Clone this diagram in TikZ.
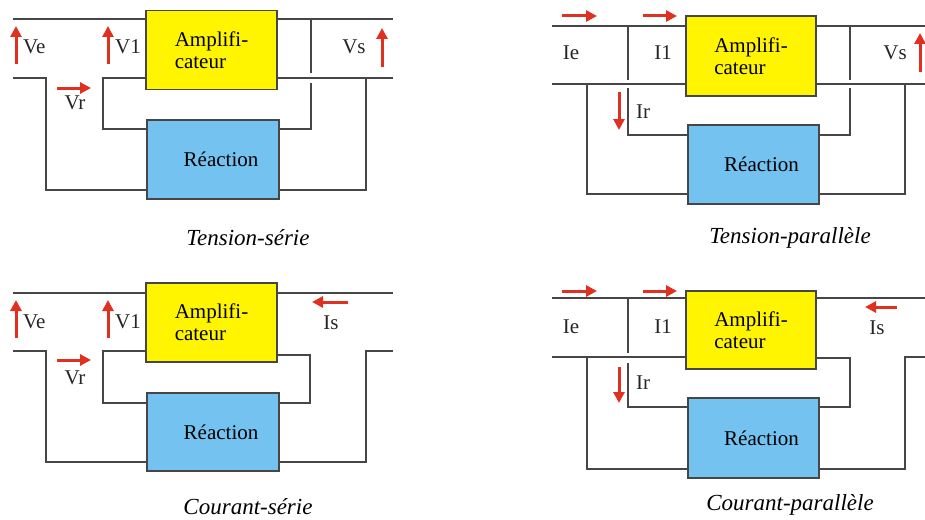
\documentclass[tikz,border=0pt]{standalone}
\usepackage{fontspec}
\setmainfont{Liberation Serif}
\usepackage{tikz}
\usetikzlibrary{arrows.meta,positioning}
\definecolor{FilGris}{RGB}{70,70,70}
\definecolor{AmpliJaune}{RGB}{255,245,0}
\definecolor{ReacBleu}{RGB}{115,194,240}
\definecolor{FlecheRouge}{RGB}{224,48,32}

\begin{document}
\begin{tikzpicture}[x=1pt,y=-1pt,
    ampli/.style={draw=FilGris,line width=1.4pt,fill=AmpliJaune,minimum width=131pt,minimum height=79pt,inner sep=0pt,align=left,font=\fontsize{21}{22}\selectfont},
    reac/.style={draw=FilGris,line width=1.4pt,fill=ReacBleu,minimum width=132pt,minimum height=79pt,inner sep=0pt,font=\fontsize{21}{22}\selectfont},
    fil/.style={draw=FilGris,line width=1.2pt},
    fleche/.style={-{Triangle[length=11pt,width=11pt]},FlecheRouge,line width=3pt},
    etiq/.style={inner sep=0pt,text=black!85,font=\fontsize{21}{22}\selectfont},
    legende/.style={inner sep=0pt,font=\fontsize{23}{24}\selectfont\itshape}]
  \useasboundingbox (0,0) rectangle (925,519);

  % Tension-serie
  \node[ampli] (A1) at (211.5,50) {Amplifi-\\cateur};
  \node[reac] (R1) at (213,159.5) {\hspace*{16pt}Réaction};
  \coordinate (e1h) at (13,19); \coordinate (s1h) at (393,19);
  \coordinate (e1b) at (13,78); \coordinate (s1b) at (393,78);
  \coordinate (g1) at (103,78); \coordinate (h1) at (103,129);
  \coordinate (k1) at (46,190); \coordinate (m1) at (366,190);
  \coordinate (p1) at (311,19); \coordinate (q1) at (311,129);
  \draw[fil] (e1h) -- (e1h -| A1.west) (e1h -| A1.east) -- (s1h);
  \draw[fil] (e1b) -| (k1) -- (k1 -| R1.west);
  \draw[fil] (g1 -| A1.west) -- (g1) -- (h1) -- (h1 -| R1.west);
  \draw[fil] (s1b -| A1.east) -- (s1b);
  \draw[fil] (s1b -| m1) -- (m1) -- (m1 -| R1.east);
  \draw[fil] (p1) -- ++(0,54) ++(0,10) -- (q1) -- (q1 -| R1.east);
  \draw[fleche] (16,64) -- (16,26);
  \draw[fleche] (108,64) -- (108,26);
  \draw[fleche] (57,88) -- (91,88);
  \draw[fleche] (382,67) -- (382,28);
  \node[etiq,anchor=west] (ve1) at (23,47) {Ve};
  \node[etiq,anchor=west] (v11) at (115,47) {V1};
  \node[etiq] (vr1) at (75,103) {Vr};
  \node[etiq] (vs1) at (354,47) {Vs};
  \node[legende] (t1) at (248,238) {Tension-série};

  % Tension-parallele
  \node[ampli,minimum width=130pt,minimum height=80pt] (A2) at (751,56) {Amplifi-\\cateur};
  \node[reac,minimum width=131pt] (R2) at (753.5,164.5) {\hspace*{16pt}Réaction};
  \coordinate (e2h) at (552,26); \coordinate (s2h) at (925,26);
  \coordinate (e2b) at (552,84); \coordinate (s2b) at (925,84);
  \coordinate (p2) at (628,26); \coordinate (q2) at (628,135);
  \coordinate (u2) at (850,26); \coordinate (w2) at (850,135);
  \coordinate (k2) at (587,194); \coordinate (m2) at (905,194);
  \draw[fil] (e2h) -- (e2h -| A2.west) (e2h -| A2.east) -- (s2h);
  \draw[fil] (e2b) -- (e2b -| A2.west) (e2b -| A2.east) -- (s2b);
  \draw[fil] (p2) -- ++(0,54) ++(0,8) -- (q2) -- (q2 -| R2.west);
  \draw[fil] (u2) -- ++(0,54) ++(0,8) -- (w2) -- (w2 -| R2.east);
  \draw[fil] (e2b -| k2) -- (k2) -- (k2 -| R2.west);
  \draw[fil] (s2b -| m2) -- (m2) -- (m2 -| R2.east);
  \draw[fleche] (562,16) -- (597,16);
  \draw[fleche] (643,16) -- (677,16);
  \draw[fleche] (619,92) -- (619,130);
  \draw[fleche] (920,72) -- (920,33);
  \node[etiq] (ie2) at (571,53) {Ie};
  \node[etiq] (i12) at (663,53) {I1};
  \node[etiq,anchor=west] (ir2) at (636,112) {Ir};
  \node[etiq] (vs2) at (895,53) {Vs};
  \node[legende] (t2) at (790,238) {Tension-parallèle};

  % Courant-serie
  \node[ampli] (A3) at (211.5,322.5) {Amplifi-\\cateur};
  \node[reac,minimum height=78pt] (R3) at (213,432) {\hspace*{16pt}Réaction};
  \coordinate (e3h) at (13,293); \coordinate (s3h) at (393,293);
  \coordinate (e3b) at (13,351); \coordinate (s3b) at (393,351);
  \coordinate (g3) at (103,351); \coordinate (h3) at (103,403);
  \coordinate (n3) at (310,355); \coordinate (q3) at (310,403);
  \coordinate (k3) at (46,462); \coordinate (m3) at (366,462);
  \draw[fil] (e3h) -- (e3h -| A3.west) (e3h -| A3.east) -- (s3h);
  \draw[fil] (e3b) -| (k3) -- (k3 -| R3.west);
  \draw[fil] (g3 -| A3.west) -- (g3) -- (h3) -- (h3 -| R3.west);
  \draw[fil] (n3 -| A3.east) -- (n3) -- (q3) -- (q3 -| R3.east);
  \draw[fil] (s3b) -| (m3) -- (m3 -| R3.east);
  \draw[fleche] (16,338) -- (16,300);
  \draw[fleche] (108,338) -- (108,300);
  \draw[fleche] (57,360) -- (91,360);
  \draw[fleche] (348,302) -- (312,302);
  \node[etiq,anchor=west] (ve3) at (23,322) {Ve};
  \node[etiq,anchor=west] (v13) at (115,322) {V1};
  \node[etiq] (vr3) at (75,378) {Vr};
  \node[etiq] (is3) at (331,323) {Is};
  \node[legende] (t3) at (248,507) {Courant-série};

  % Courant-parallele
  \node[ampli,minimum width=130pt,minimum height=78pt] (A4) at (751,330) {Amplifi-\\cateur};
  \node[reac,minimum width=131pt,minimum height=80pt] (R4) at (753.5,438) {\hspace*{16pt}Réaction};
  \coordinate (e4h) at (552,298); \coordinate (s4h) at (925,298);
  \coordinate (e4b) at (552,357); \coordinate (s4b) at (925,357);
  \coordinate (p4) at (628,298); \coordinate (q4) at (628,407);
  \coordinate (n4) at (850,358); \coordinate (w4) at (850,407);
  \coordinate (k4) at (587,469); \coordinate (m4) at (905,469);
  \draw[fil] (e4h) -- (e4h -| A4.west) (e4h -| A4.east) -- (s4h);
  \draw[fil] (e4b) -- (e4b -| A4.west);
  \draw[fil] (p4) -- ++(0,55) ++(0,10) -- (q4) -- (q4 -| R4.west);
  \draw[fil] (n4 -| A4.east) -- (n4) -- (w4) -- (w4 -| R4.east);
  \draw[fil] (e4b -| k4) -- (k4) -- (k4 -| R4.west);
  \draw[fil] (s4b) -| (m4) -- (m4 -| R4.east);
  \draw[fleche] (562,291) -- (597,291);
  \draw[fleche] (643,291) -- (677,291);
  \draw[fleche] (897,307) -- (865,307);
  \draw[fleche] (619,367) -- (619,403);
  \node[etiq] (ie4) at (571,327) {Ie};
  \node[etiq] (i14) at (663,327) {I1};
  \node[etiq] (is4) at (877,328) {Is};
  \node[etiq,anchor=west] (ir4) at (636,383) {Ir};
  \node[legende] (t4) at (790,505) {Courant-parallèle};
\end{tikzpicture}
\end{document}
